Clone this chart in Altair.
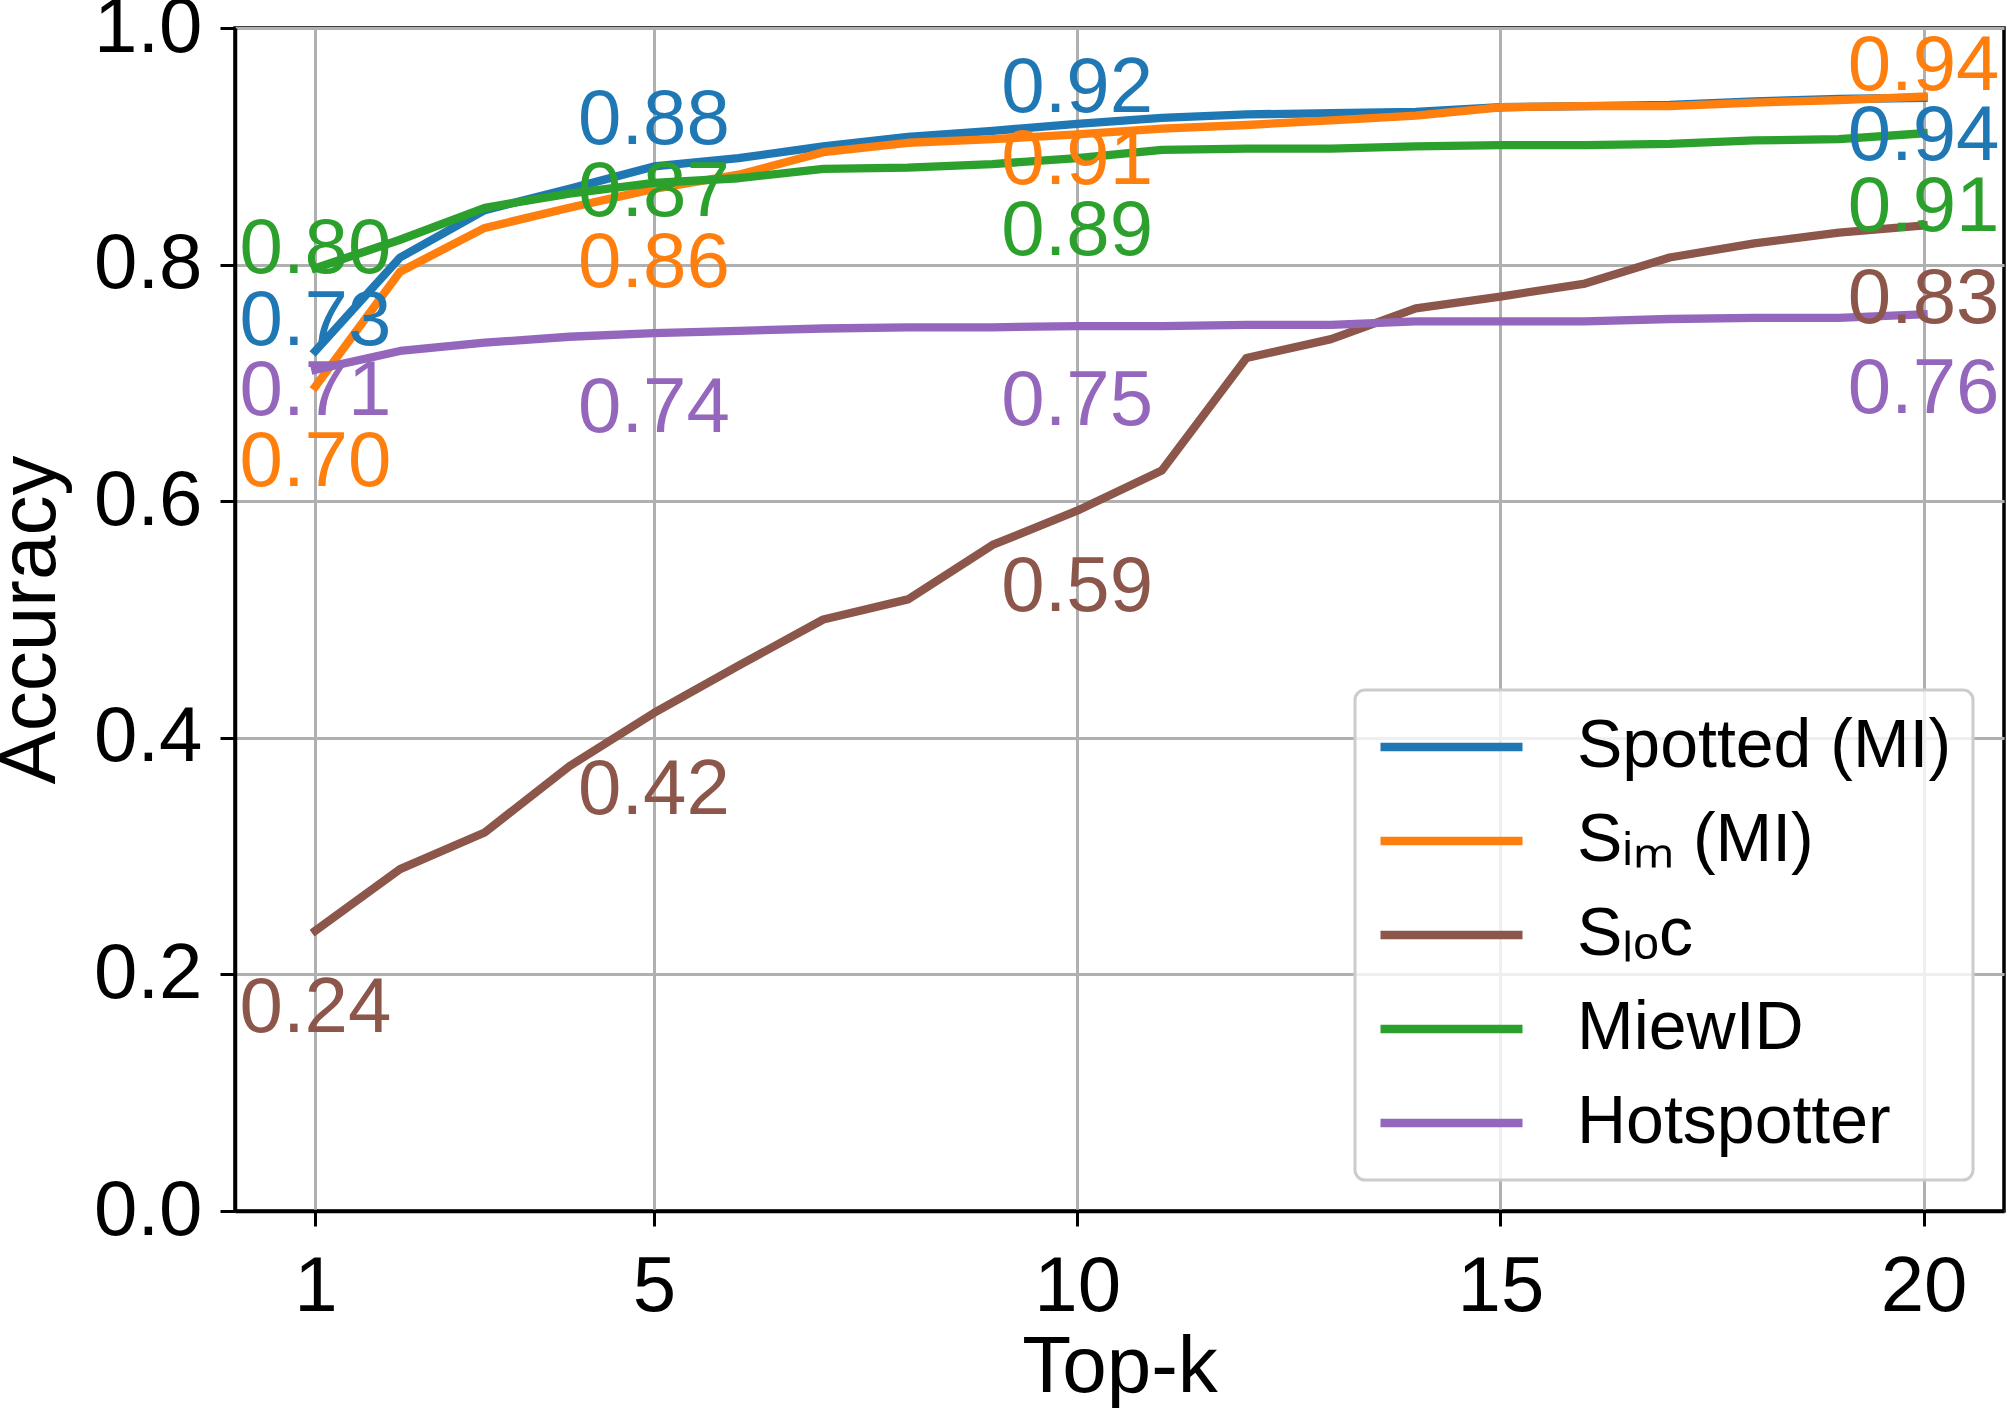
import altair as alt
import pandas as pd

# ---- data ----
topk = list(range(1, 21))
series_names = ["Spotted (MI)", "Sᵢₘ (MI)", "Sₗₒc", "MiewID", "Hotspotter"]
spotted = [0.727, 0.806, 0.846, 0.864, 0.883, 0.890, 0.900, 0.908, 0.913, 0.919,
           0.924, 0.927, 0.928, 0.929, 0.933, 0.934, 0.935, 0.938, 0.940, 0.941]
s_im = [0.697, 0.794, 0.831, 0.848, 0.864, 0.876, 0.895, 0.903, 0.906, 0.910,
        0.915, 0.918, 0.922, 0.926, 0.933, 0.934, 0.934, 0.937, 0.939, 0.942]
s_loc = [0.237, 0.289, 0.320, 0.376, 0.421, 0.461, 0.500, 0.517, 0.563, 0.592,
         0.626, 0.721, 0.737, 0.763, 0.773, 0.784, 0.806, 0.818, 0.827, 0.833]
miewid = [0.797, 0.821, 0.848, 0.860, 0.869, 0.873, 0.881, 0.882, 0.885, 0.890,
          0.897, 0.898, 0.898, 0.900, 0.901, 0.901, 0.902, 0.905, 0.906, 0.911]
hotspotter = [0.711, 0.727, 0.734, 0.739, 0.742, 0.744, 0.746, 0.747, 0.747, 0.748,
              0.748, 0.749, 0.749, 0.752, 0.752, 0.752, 0.754, 0.755, 0.755, 0.758]
label_ks = [1, 5, 10, 20]
x_ticks = [1, 5, 10, 15, 20]
y_ticks = [0.0, 0.2, 0.4, 0.6, 0.8, 1.0]

# ---- style ----
colors = ["#1f77b4", "#ff7f0e", "#8c564b", "#2ca02c", "#9467bd"]
PLOT_W, PLOT_H = 1769, 1183
# vertical pixel shift (down = positive) of each value label (k = 1, 5, 10, 20)
label_shift = {
    "Spotted (MI)": [-29, -45, -35, 39],
    "Sᵢₘ (MI)": [77, 75, 27, -30],
    "Sₗₒc": [78, 78, 77, 74],
    "MiewID": [-18, 10, 74, 75],
    "Hotspotter": [22, 76, 76, 76],
}
FONT = "Liberation Sans"
LINE_W = 8.3

values = [spotted, s_im, s_loc, miewid, hotspotter]
rows = []
lab_rows = []
for name, vals in zip(series_names, values):
    for k, v in zip(topk, vals):
        rows.append({"k": k, "series": name, "value": v})
    for i, k in enumerate(label_ks):
        v = vals[k - 1]
        lab_rows.append({"k": k, "series": name, "value": v,
                         "text": f"{v:.2f}", "shift": label_shift[name][i]})
df = pd.DataFrame(rows)
df_lab = pd.DataFrame(lab_rows)

color_scale = alt.Scale(domain=series_names, range=colors)
x_enc = alt.X("k:Q", scale=alt.Scale(domain=[0.05, 20.95], nice=False, zero=False),
              axis=alt.Axis(values=x_ticks, title="Top-k", labelPadding=22,
                            titlePadding=2, format="d"))
y_scale = alt.Scale(domain=[0, 1], nice=False)
y_enc = alt.Y("value:Q", scale=y_scale,
              axis=alt.Axis(values=y_ticks, title="Accuracy", format=".1f",
                            labelPadding=18, titlePadding=22))

lines = alt.Chart(df).mark_line(strokeWidth=LINE_W, strokeCap="square", strokeJoin="round").encode(
    x=x_enc,
    y=y_enc,
    color=alt.Color("series:N", scale=color_scale, sort=series_names,
                    legend=alt.Legend(
                        title=None, orient="none", legendX=1120, legendY=662,
                        symbolType="stroke", symbolSize=20164, symbolStrokeWidth=LINE_W,
                        labelFontSize=68, labelFont=FONT, labelColor="black",
                        labelOffset=50, clipHeight=72, rowPadding=22, padding=21,
                        strokeColor="#cccccc", fillColor="rgba(255,255,255,0.8)",
                        cornerRadius=10, labelLimit=800)),
    detail="series:N",
)

labels = alt.Chart(df_lab).transform_calculate(
    label_y=f"datum.value - datum.shift / {PLOT_H}"
).mark_text(fontSize=78, font=FONT, baseline="middle", align="center").encode(
    x=alt.X("k:Q"),
    y=alt.Y("label_y:Q", scale=y_scale),
    text="text:N",
    color=alt.Color("series:N", scale=color_scale, legend=None),
)

chart = alt.layer(lines, labels).properties(
    width=PLOT_W, height=PLOT_H,
    padding={"left": 235, "top": 28, "right": 4, "bottom": 197},
    autosize=alt.AutoSizeParams(type="none"),
).configure_view(
    stroke="black", strokeWidth=3.5
).configure_axis(
    domainColor="black", domainWidth=3.5, tickColor="black", tickWidth=3, tickSize=15,
    labelFont=FONT, labelFontSize=78, labelColor="black", labelFlush=False,
    labelOverlap=False, titleFont=FONT, titleFontSize=80, titleFontWeight="normal",
    titleColor="black", gridColor="#b0b0b0", gridWidth=3, grid=True,
).configure_legend(
    strokeWidth=3
)

chart.save("out.html", embed_options={"renderer": "svg", "actions": False})
